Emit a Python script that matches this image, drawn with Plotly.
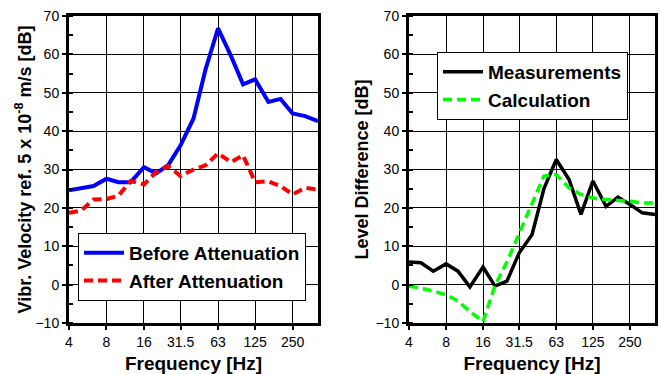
import plotly.graph_objects as go

freq = [4, 5, 6.3, 8, 10, 12.5, 16, 20, 25, 31.5, 40, 50, 63, 80, 100, 125, 160, 200, 250, 315, 400]
before_att = [24.6, 25.1, 25.7, 27.6, 26.7, 26.7, 30.6, 29.0, 31.1, 36.3, 43.3, 56.1, 66.8, 59.6, 52.2, 53.5, 47.6, 48.4, 44.6, 43.9, 42.6]
after_att = [18.7, 19.3, 22.2, 22.3, 23.2, 27.0, 26.1, 29.3, 30.9, 28.3, 30.0, 31.1, 34.2, 31.9, 33.7, 26.7, 26.9, 25.7, 23.5, 25.2, 24.8]
measurements = [5.9, 5.7, 3.5, 5.4, 3.5, -0.6, 4.6, -0.4, 0.9, 8.3, 13.0, 25.0, 32.6, 27.4, 18.3, 27.0, 20.4, 22.8, 20.9, 18.7, 18.3]
calculation = [-0.4, -0.9, -1.7, -2.6, -4.3, -7.0, -9.6, -0.3, 5.9, 13.5, 21.2, 28.3, 28.7, 25.2, 23.5, 22.6, 22.2, 22.0, 21.7, 21.3, 21.3]

x_tickvals = [4, 8, 16, 31.5, 63, 125, 250]
x_ticktext = ["4", "8", "16", "31.5", "63", "125", "250"]
y_ticks = [-10, 0, 10, 20, 30, 40, 50, 60, 70]

FONT = "Arial, Liberation Sans, sans-serif"
W, H = 661, 374

fig = go.Figure()
fig.add_trace(go.Scatter(x=freq, y=before_att, mode="lines", name="Before Attenuation",
                         line=dict(color="#0000ff", width=4), xaxis="x", yaxis="y",
                         legend="legend", legendgroup="a"))
fig.add_trace(go.Scatter(x=freq, y=after_att, mode="lines", name="After Attenuation",
                         line=dict(color="#ff0000", width=4, dash="9px,5px"), xaxis="x", yaxis="y",
                         legend="legend", legendgroup="b"))
fig.add_trace(go.Scatter(x=freq, y=measurements, mode="lines", name="Measurements",
                         line=dict(color="#000000", width=3.5), xaxis="x2", yaxis="y2",
                         legend="legend2", legendgroup="c"))
fig.add_trace(go.Scatter(x=freq, y=calculation, mode="lines", name="Calculation",
                         line=dict(color="#00ff00", width=3.5, dash="9px,5px"), xaxis="x2", yaxis="y2",
                         legend="legend2", legendgroup="d"))

def xaxis(domain, anchor):
    return dict(domain=domain, anchor=anchor, type="log", automargin=False,
                range=[0.60206, 2.60206], tickvals=x_tickvals, ticktext=x_ticktext,
                showgrid=True, gridcolor="#000000", gridwidth=1,
                showline=True, linecolor="#000000", linewidth=3, mirror=True,
                ticks="outside", ticklen=4, tickwidth=2, tickcolor="#000000",
                tickfont=dict(family=FONT, size=14, color="#000000"),
                title=dict(text="Frequency [Hz]", standoff=16,
                           font=dict(family=FONT, size=19, color="#000000", weight="bold")),
                zeroline=False)

def yaxis(domain, anchor, title, standoff):
    return dict(domain=domain, anchor=anchor, range=[-10, 70], tickvals=y_ticks, automargin=False,
                showgrid=True, gridcolor="#000000", gridwidth=1,
                showline=True, linecolor="#000000", linewidth=3, mirror=True,
                ticks="outside", ticklen=4, tickwidth=2, tickcolor="#000000",
                minor=dict(dtick=5, tick0=-10, ticks="inside", ticklen=4, tickwidth=2,
                           tickcolor="#000000", showgrid=False),
                tickfont=dict(family=FONT, size=14, color="#000000"),
                title=dict(text=title, standoff=standoff,
                           font=dict(family=FONT, size=18, color="#000000", weight="bold")),
                zeroline=False)

ydom = [51 / H, 358 / H]
fig.update_layout(
    width=W, height=H,
    margin=dict(l=0, r=0, t=0, b=0, autoexpand=False),
    paper_bgcolor="white", plot_bgcolor="white",
    font=dict(family=FONT, color="#000000"),
    xaxis=xaxis([69 / W, 318 / W], "y"),
    yaxis=yaxis(ydom, "x", "Vibr. Velocity ref. 5 x 10<sup>-8</sup> m/s [dB]", 0),
    xaxis2=xaxis([409 / W, 655 / W], "y2"),
    yaxis2=yaxis(ydom, "x2", "Level Difference [dB]", 3),
    legend=dict(x=78 / W, y=1 - 233 / H, xanchor="left", yanchor="top",
                bgcolor="white", bordercolor="#000000", borderwidth=1,
                font=dict(family=FONT, size=19, color="#000000", weight="bold"),
                tracegroupgap=0, itemwidth=40),
    legend2=dict(x=437 / W, y=1 - 52 / H, xanchor="left", yanchor="top",
                 bgcolor="white", bordercolor="#000000", borderwidth=1,
                 font=dict(family=FONT, size=19, color="#000000", weight="bold"),
                 tracegroupgap=0, itemwidth=40),
    showlegend=True,
)

fig.write_html("out.html", config={"displayModeBar": False},
               post_script="document.body.style.margin='0';document.body.style.overflow='hidden';")
